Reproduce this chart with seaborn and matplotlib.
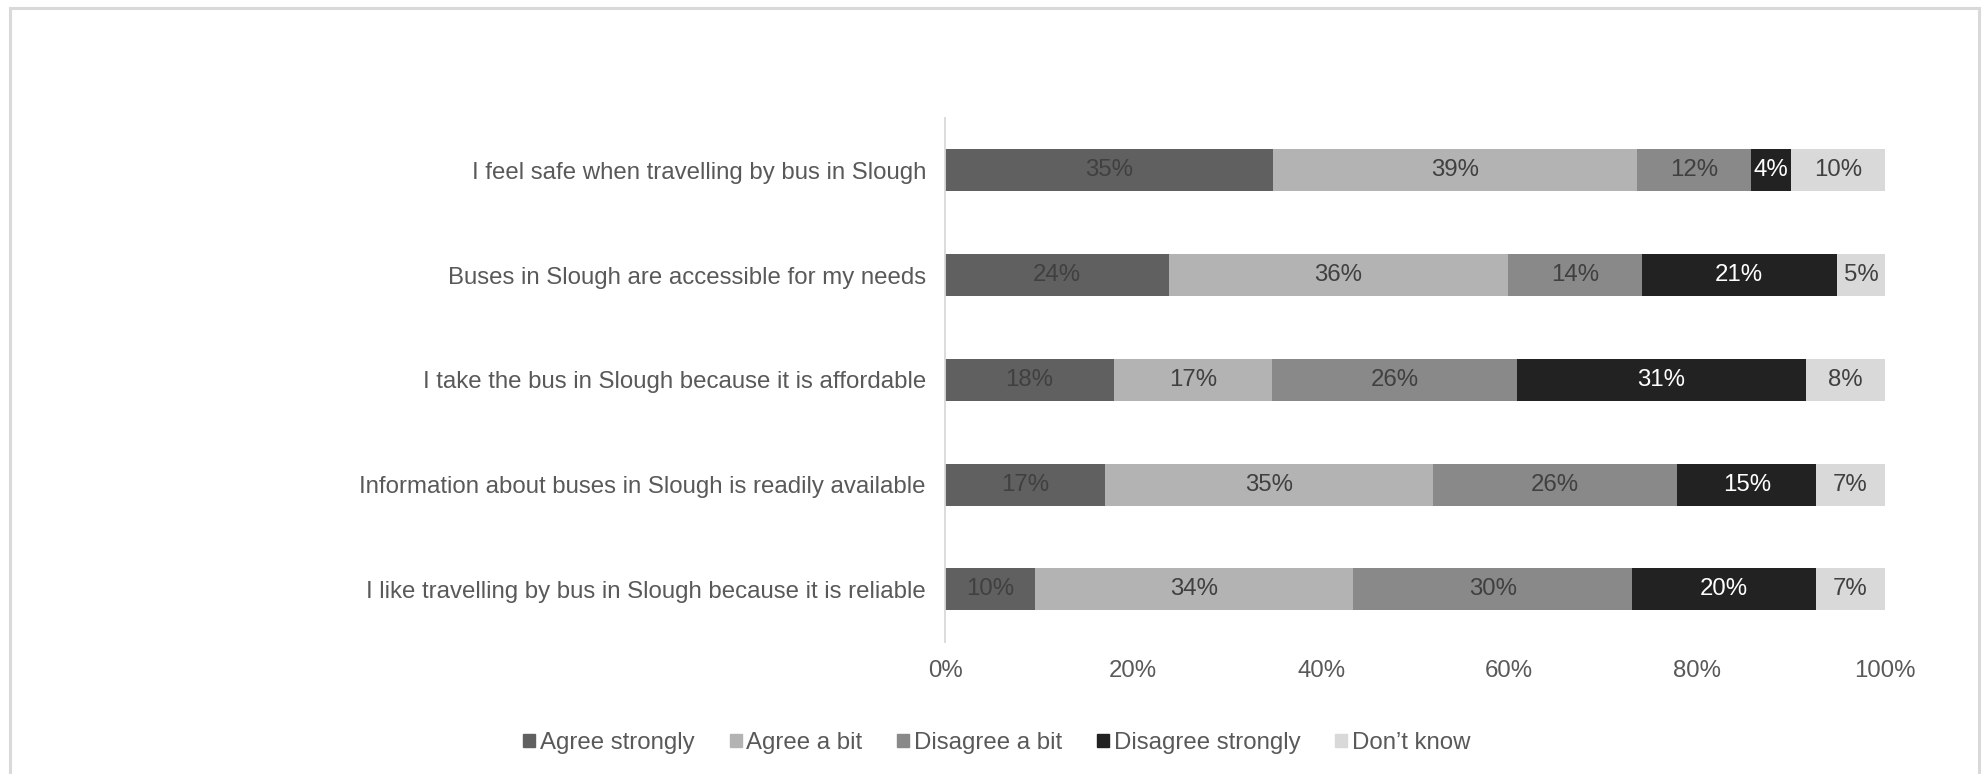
import matplotlib
matplotlib.use("Agg")
import matplotlib.pyplot as plt
import matplotlib.patches as mpatches
import seaborn as sns
import pandas as pd
import numpy as np

categories = [
    "I feel safe when travelling by bus in Slough",
    "Buses in Slough are accessible for my needs",
    "I take the bus in Slough because it is affordable",
    "Information about buses in Slough is readily available",
    "I like travelling by bus in Slough because it is reliable",
]
series_names = ["Agree strongly", "Agree a bit", "Disagree a bit", "Disagree strongly", "Don\u2019t know"]
agree_strongly = [34.9, 23.8, 17.9, 17.0, 9.5]
agree_bit = [38.7, 36.1, 16.9, 34.9, 33.9]
disagree_bit = [12.1, 14.2, 26.0, 26.0, 29.7]
disagree_strongly = [4.3, 20.8, 30.8, 14.8, 19.6]
dont_know = [10.0, 5.1, 8.4, 7.3, 7.3]
xticks = [0, 20, 40, 60, 80, 100]
xtick_labels = ["0%", "20%", "40%", "60%", "80%", "100%"]

colors = ["#606060", "#b3b3b3", "#898989", "#222222", "#d9d9d9"]
label_colors = ["#404040", "#404040", "#404040", "#ffffff", "#404040"]

sns.set_theme(style="white")
plt.rcParams["font.family"] = ["Liberation Sans", "DejaVu Sans"]

FS = 17.3

values = np.array([agree_strongly, agree_bit, disagree_bit, disagree_strongly, dont_know])
cum = np.cumsum(values, axis=0)

fig = plt.figure(figsize=(19.82, 7.74), dpi=100)
ax = fig.add_axes([0.477, 0.171, 0.474, 0.6765])

# draw cumulative bars from the longest to the shortest
for i in range(len(series_names) - 1, -1, -1):
    df = pd.DataFrame({"cat": categories, "val": cum[i]})
    sns.barplot(data=df, x="val", y="cat", orient="h", color=colors[i],
                width=0.4, saturation=1, ax=ax, edgecolor="none", linewidth=0)

# data labels
for i in range(len(series_names)):
    for j in range(len(categories)):
        start = cum[i][j] - values[i][j]
        ax.text(start + values[i][j] / 2, j, f"{values[i][j]:.0f}%",
                ha="center", va="center", fontsize=FS, color=label_colors[i])

ax.set_xlim(0, 100)
ax.set_ylim(len(categories) - 0.5, -0.5)
ax.set_xticks(xticks)
ax.set_xticklabels(xtick_labels)
ax.set_xlabel("")
ax.set_ylabel("")
ax.tick_params(axis="x", length=0, labelsize=FS, labelcolor="#595959", pad=13)
ax.tick_params(axis="y", length=0, labelsize=FS, labelcolor="#595959", pad=14)
for s in ["top", "right", "bottom"]:
    ax.spines[s].set_visible(False)
ax.spines["left"].set_color("#d9d9d9")
ax.spines["left"].set_linewidth(1.3)
ax.grid(False)

handles = [mpatches.Patch(color=c, label=n) for c, n in zip(colors, series_names)]
leg = fig.legend(handles=handles, loc="center", bbox_to_anchor=(0.503, 0.04), ncol=5,
                 frameon=False, fontsize=FS, handlelength=0.5, handleheight=0.5,
                 handletextpad=0.2, columnspacing=1.45, labelcolor="#595959")

# outer border
fig.patches.append(mpatches.Rectangle((10 / 1982, -0.05), (1979 - 10) / 1982, 1.05 - 8 / 774,
                                      transform=fig.transFigure, fill=False,
                                      edgecolor="#d9d9d9", linewidth=2.2))

fig.savefig("out.png", dpi=100, facecolor="white")
